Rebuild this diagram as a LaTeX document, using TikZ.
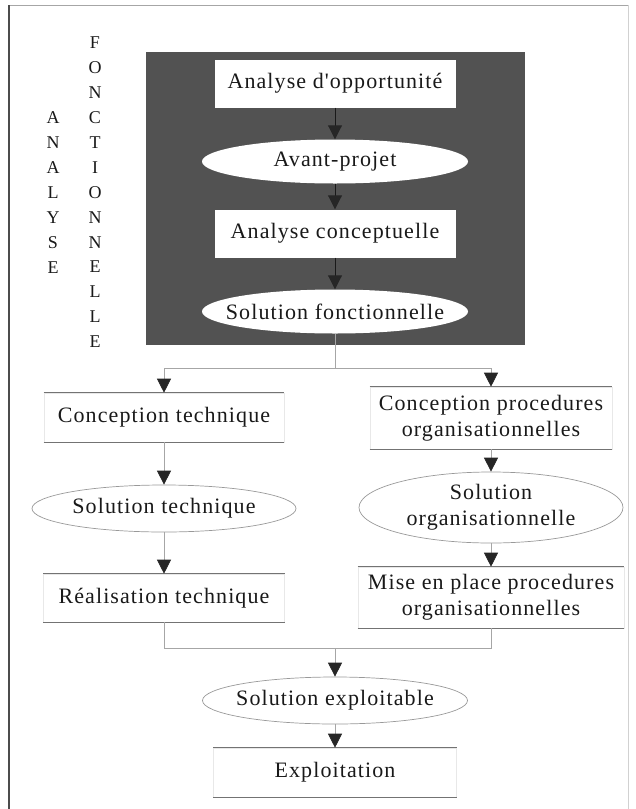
\documentclass[tikz,border=0pt]{standalone}
\usepackage{fontspec}
\setmainfont{Liberation Serif}
\newfontfamily\lblfont[LetterSpace=5]{Liberation Serif}
\usetikzlibrary{arrows.meta,shapes.geometric}
% zero-width text, so that an ellipse takes its size from its minimum size only
\newcommand\ovtext[1]{\makebox[0pt][c]{#1}}

\begin{document}
\begin{tikzpicture}[x=1pt,y=-1pt,
  lbl/.style={font=\lblfont\fontsize{22}{26}\selectfont, text=black!90, align=center, inner sep=0pt},
  plainbox/.style={lbl, rectangle, draw=black!9, line width=0.6pt},
  whitebox/.style={lbl, rectangle, fill=white, minimum width=241pt, minimum height=48pt},
  whiteoval/.style={lbl, ellipse, fill=white, minimum width=266pt, minimum height=44pt},
  oval/.style={lbl, ellipse, draw=black!40, line width=0.7pt, fill=white},
  boxrule/.style={draw=black!55, line width=0.8pt},
  conn/.style={draw=black!35, line width=0.8pt},
  darkconn/.style={draw=black!90, line width=0.9pt},
  flowarrow/.style={-{Triangle[length=14pt,width=14pt,color=black!85]}},
  vletter/.style={font=\fontsize{18}{20}\selectfont, text=black!90, inner sep=0pt}]

\useasboundingbox (0,0) rectangle (636,809);

% page frame
\draw[black!35, line width=0.8pt] (9,5) -- (628,5);
\draw[black!70, line width=1.6pt] (9,5) -- (9,809);
\draw[black!18, line width=0.6pt] (628,5) -- (628,809);

% functional analysis panel
\fill[black!68] (146,52) rectangle (525,345);

\node[whitebox]  (ao) at (335,83.5)  {Analyse d'opportunité};
\node[whiteoval] (ap) at (335,161.5) {\ovtext{Avant-projet}};
\node[whitebox]  (ac) at (335,233.5) {Analyse conceptuelle};
\node[whiteoval] (sf) at (335,311.5) {\ovtext{Solution fonctionnelle}};

\draw[darkconn, flowarrow] (ao) -- (ap);
\draw[darkconn, flowarrow] (ap) -- (ac);
\draw[darkconn, flowarrow] (ac) -- (sf);

% vertical captions
\foreach \c [count=\i] in {F,O,N,C,T,I,O,N,N,E,L,L,E}
  \node[vletter] (fo\i) at (95,{43+24.9*(\i-1)}) {\c};
\foreach \c [count=\i] in {A,N,A,L,Y,S,E}
  \node[vletter] (an\i) at (53,{118+24.9*(\i-1)}) {\c};

% technical branch
\node[plainbox, minimum width=240pt, minimum height=49pt] (ct) at (164,417.5) {Conception technique};
\node[oval, minimum width=264pt, minimum height=47pt] (st) at (164,508.5) {\ovtext{Solution technique}};
\node[plainbox, minimum width=241pt, minimum height=48pt] (rt) at (164,598) {Réalisation technique};

% organisational branch
\node[plainbox, minimum width=242pt, minimum height=62pt] (cp) at (491,418) {Conception procedures\\organisationnelles};
\node[oval, minimum width=264pt, minimum height=71pt] (so) at (491,507.5) {\ovtext{Solution}\\\ovtext{organisationnelle}};
\node[plainbox, minimum width=266pt, minimum height=61pt] (mp) at (491,597.5) {Mise en place procedures\\organisationnelles};

% exploitation
\node[oval, minimum width=265pt, minimum height=47pt] (se) at (335,700.5) {\ovtext{Solution exploitable}};
\node[plainbox, minimum width=243pt, minimum height=49pt] (ex) at (335,772.5) {Exploitation};

% darker top and bottom rules of the boxes
\foreach \n in {ct,rt,cp,mp,ex} {
  \draw[boxrule] (\n.north west) -- (\n.north east);
  \draw[boxrule] (\n.south west) -- (\n.south east);
}

% connectors
\coordinate (split) at (335,368);
\coordinate (merge) at (335,648);
\draw[conn] (sf) -- (split);
\draw[conn, flowarrow] (split) -| (ct);
\draw[conn, flowarrow] (split) -| (cp);
\draw[conn, flowarrow] (ct) -- (st);
\draw[conn, flowarrow] (st) -- (rt);
\draw[conn, flowarrow] (cp) -- (so);
\draw[conn, flowarrow] (so) -- (mp);
\draw[conn] (rt) |- (merge);
\draw[conn] (mp) |- (merge);
\draw[conn, flowarrow] (merge) -- (se);
\draw[conn, flowarrow] (se) -- (ex);
\end{tikzpicture}
\end{document}
